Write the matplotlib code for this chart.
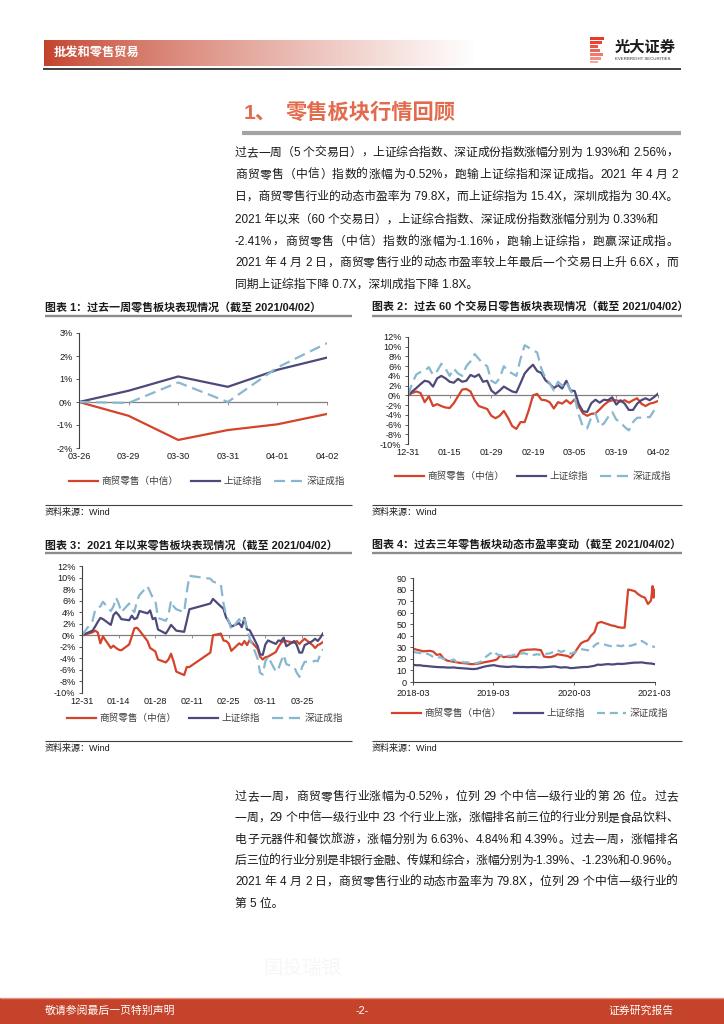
import re
import numpy as np
import pandas as pd
import matplotlib
matplotlib.use("Agg")
import matplotlib.pyplot as plt
import matplotlib.dates as mdates
from matplotlib.colors import to_rgb
from matplotlib.lines import Line2D
from matplotlib.patches import Rectangle
from matplotlib.ticker import FuncFormatter

W, H = 724, 1024
plt.rcParams['font.family'] = ['Liberation Sans', 'Noto Sans CJK SC', 'DejaVu Sans']

# ---------------- data ----------------
series_names = ['商贸零售（中信）', '上证综指', '深证成指']
series_colors = ['#D5432B', '#4D4A7B', '#87B8CF']

# chart 1: last week, cumulative change (%)
week_labels = ['03-26', '03-29', '03-30', '03-31', '04-01', '04-02']
week_retail = [0.0, -0.60, -1.65, -1.22, -0.97, -0.52]
week_sh = [0.0, 0.49, 1.11, 0.66, 1.40, 1.93]
week_sz = [0.0, -0.04, 0.85, 0.0, 1.50, 2.56]

# charts 2 and 3: 2021 year to date, cumulative change (%)
ytd_dates = pd.bdate_range('2021-01-04', '2021-04-02').drop(
    pd.to_datetime(['2021-02-11', '2021-02-12', '2021-02-15', '2021-02-16', '2021-02-17']))
ytd_dates = pd.DatetimeIndex([pd.Timestamp('2020-12-31')]).append(ytd_dates)
ytd_retail = [0.0, 0.5, 0.8, 0.5, -1.4, -0.2, -2.2, -1.8, -2.2, -2.5,
              -2.6, -1.6, -0.2, 1.2, 1.3, 0.8, -1.0, -2.2, -2.5, -2.8,
              -4.2, -4.7, -4.2, -3.2, -4.6, -6.3, -6.9, -5.5, -5.5, -3.0,
              0.0, 0.3, -0.9, -1.0, -1.4, -2.7, -1.4, -1.7, -1.0, -1.7,
              -0.8, -2.3, -3.7, -4.2, -3.8, -3.7, -2.9, -2.0, -1.3, -1.0,
              -1.0, -1.3, -1.0, -1.5, -1.0, -0.6, -1.7, -2.2, -1.7, -1.5, -1.16]
ytd_sh = [0.0, 0.8, 1.5, 2.3, 3.0, 2.8, 1.8, 3.5, 4.0, 3.5,
          2.8, 2.6, 3.4, 2.8, 3.0, 4.2, 3.8, 4.3, 2.8, 3.0,
          1.0, 0.3, 1.0, 1.8, 1.3, 0.8, 0.6, 2.5, 4.5, 5.5,
          6.3, 5.0, 4.6, 3.1, 2.4, 1.5, 2.1, 1.4, 3.0, 1.0,
          0.9, -1.8, -3.3, -3.4, -1.6, -0.9, -1.5, -0.9, -1.0, -0.4,
          -1.9, -1.0, -1.7, -3.0, -3.0, -1.7, -1.0, -0.6, -1.0, -0.4, 0.33]
ytd_sz = [0.0, 2.5, 4.3, 4.8, 5.0, 5.8, 4.2, 5.0, 6.5, 5.5,
          4.0, 5.5, 4.5, 4.0, 6.0, 7.0, 8.5, 7.5, 6.5, 6.0,
          3.0, 2.5, 3.5, 6.0, 5.0, 4.5, 4.0, 7.5, 10.3, 9.8,
          9.3, 8.8, 5.5, 3.5, 2.5, 1.0, 2.8, 2.0, 2.8, 1.0,
          -0.5, -4.0, -6.5, -6.8, -4.5, -3.7, -6.3, -5.8, -4.5, -3.4,
          -5.0, -5.5, -6.5, -7.2, -5.5, -4.6, -4.6, -4.4, -4.5, -3.2, -2.41]
ytd_labels = ['12-31', '01-15', '01-29', '02-19', '03-05', '03-19', '04-02']

# chart 4: dynamic PE over three years
pe_dates = pd.date_range('2018-04-01', '2021-03-15', freq='SMS').append(
    pd.to_datetime(['2021-03-22', '2021-03-26', '2021-04-02']))
pe_retail = [28.8, 28.0, 27.3, 26.5, 26.8, 27.0, 26.2, 23.5, 24.0, 20.5,
             18.5, 18.0, 17.5, 17.0, 16.5, 16.3, 16.0, 15.5, 15.5, 15.8,
             16.3, 17.0, 17.5, 18.0, 18.7, 19.5, 23.0, 21.5, 22.0, 21.5,
             22.0, 21.8, 27.0, 27.5, 28.0, 28.0, 28.3, 28.0, 27.5, 22.0,
             21.5, 21.5, 22.5, 24.0, 23.5, 23.0, 22.5, 21.0, 25.0, 29.0,
             33.5, 35.0, 36.0, 40.0, 43.0, 51.0, 52.0, 51.0, 50.0, 49.0,
             48.5, 47.5, 47.0, 47.0, 80.0, 79.5, 78.5, 76.0, 74.0, 73.0,
             67.5, 70.5, 83.0, 73.0, 79.8]
pe_sh = [14.8, 14.5, 14.5, 14.0, 13.8, 13.5, 13.2, 13.0, 12.8, 12.8,
         12.5, 12.5, 12.6, 12.2, 12.0, 11.8, 11.6, 11.3, 11.2, 11.5,
         12.5, 13.2, 13.8, 14.2, 14.6, 14.0, 13.5, 13.3, 13.0, 13.2,
         13.5, 13.2, 13.0, 13.0, 12.8, 12.9, 13.0, 12.8, 12.6, 12.8,
         13.0, 13.2, 13.5, 13.0, 12.5, 12.8, 12.6, 12.0, 12.2, 12.5,
         12.8, 13.0, 13.0, 13.5, 14.0, 15.0, 14.8, 15.2, 15.5, 15.2,
         15.3, 15.8, 15.6, 15.8, 16.2, 16.5, 16.8, 16.8, 17.0, 16.5,
         16.2, 16.0, 15.8, 15.6, 15.4]
pe_sz = [26.0, 25.5, 25.0, 25.5, 24.5, 23.5, 21.5, 21.0, 21.5, 20.0,
         19.0, 18.5, 19.5, 17.0, 17.5, 17.0, 17.0, 16.5, 16.0, 16.5,
         17.5, 20.5, 22.5, 24.5, 26.5, 24.0, 23.0, 23.0, 23.0, 22.5,
         23.5, 24.0, 24.5, 25.0, 24.0, 23.0, 23.5, 24.0, 23.5, 24.0,
         24.5, 25.0, 26.5, 27.5, 26.0, 27.0, 25.5, 24.5, 25.5, 27.0,
         28.5, 28.0, 27.5, 28.0, 31.5, 33.5, 33.0, 32.5, 31.5, 31.0,
         32.0, 31.5, 31.0, 32.0, 31.0, 31.5, 32.5, 34.0, 35.5, 34.0,
         32.0, 31.0, 30.8, 30.5, 30.4]
pe_ticks = pd.to_datetime(['2018-03-30', '2019-03-29', '2020-03-31', '2021-03-31'])
pe_labels = ['2018-03', '2019-03', '2020-03', '2021-03']

# (line, justified?)
para1 = [('过去一周（5 个交易日），上证综合指数、深证成份指数涨幅分别为 1.93%和 2.56%，', True),
         ('商贸零售（中信）指数的涨幅为-0.52%，跑输上证综指和深证成指。2021 年 4 月 2', True),
         ('日，商贸零售行业的动态市盈率为 79.8X，而上证综指为 15.4X，深圳成指为 30.4X。', False)]
para2 = [('2021 年以来（60 个交易日），上证综合指数、深证成份指数涨幅分别为 0.33%和', False),
         ('-2.41%，商贸零售（中信）指数的涨幅为-1.16%，跑输上证综指，跑赢深证成指。', True),
         ('2021 年 4 月 2 日，商贸零售行业的动态市盈率较上年最后一个交易日上升 6.6X，而', True),
         ('同期上证综指下降 0.7X，深圳成指下降 1.8X。', False)]
para3 = [('过去一周，商贸零售行业涨幅为-0.52%，位列 29 个中信一级行业的第 26 位。过去', True),
         ('一周，29 个中信一级行业中 23 个行业上涨，涨幅排名前三位的行业分别是食品饮料、', True),
         ('电子元器件和餐饮旅游，涨幅分别为 6.63%、4.84%和 4.39%。过去一周，涨幅排名', True),
         ('后三位的行业分别是非银行金融、传媒和综合，涨幅分别为-1.39%、-1.23%和-0.96%。', True),
         ('2021 年 4 月 2 日，商贸零售行业的动态市盈率为 79.8X，位列 29 个中信一级行业的', True),
         ('第 5 位。', False)]

chart_titles = ['图表 1：过去一周零售板块表现情况（截至 2021/04/02）',
                '图表 2：过去 60 个交易日零售板块表现情况（截至 2021/04/02）',
                '图表 3：2021 年以来零售板块表现情况（截至 2021/04/02）',
                '图表 4：过去三年零售板块动态市盈率变动（截至 2021/04/02）']

# ---------------- page helpers ----------------
fig = plt.figure(figsize=(W / 100, H / 100), dpi=100)
fig.patch.set_facecolor('white')
renderer = fig.canvas.get_renderer()


def fy(y):
    return 1 - y / H


def text(x, y, s, **kw):
    kw.setdefault('va', 'center')
    return fig.text(x / W, fy(y), s, **kw)


def hline(x0, x1, y, color, lw):
    fig.add_artist(Line2D([x0 / W, x1 / W], [fy(y), fy(y)], color=color, lw=lw,
                          transform=fig.transFigure, solid_capstyle='butt'))


def box(x0, y0, x1, y1, color):
    fig.add_artist(Rectangle((x0 / W, fy(y1)), (x1 - x0) / W, (y1 - y0) / H,
                             transform=fig.transFigure, color=color, lw=0))


def px_axes(x0, y0, x1, y1):
    return fig.add_axes([x0 / W, fy(y1), (x1 - x0) / W, (y1 - y0) / H])


def body_line(x0, y, s, justify, width=443, **kw):
    # spread the slack of a justified line over the gaps between tokens
    if not justify:
        text(x0, y, s, **kw)
        return
    toks = [(m.start(), m.group()) for m in re.finditer(r'[!-~]+|[^ ]', s)]
    probe = text(0, y, 'I', **kw)
    w_i = probe.get_window_extent(renderer).width
    starts = []
    for k, _ in toks:
        if k == 0:
            starts.append(0.0)
        else:
            probe.set_text(s[:k] + 'I')
            starts.append(probe.get_window_extent(renderer).width - w_i)
    probe.set_text(s)
    total = probe.get_window_extent(renderer).width
    probe.remove()
    gap = (width - total) / (len(toks) - 1)
    for i, ((_, tok), p) in enumerate(zip(toks, starts)):
        text(x0 + p + i * gap, y, tok, **kw)


# header
hax = px_axes(44, 40, 476, 66)
t = np.linspace(0, 1, 300) ** 0.8
c0 = np.array(to_rgb('#C4412A'))
grad = c0[None, :] * (1 - t[:, None]) + t[:, None]
hax.imshow(grad[None, :, :], aspect='auto')
hax.axis('off')
text(54, 53, '批发和零售贸易', color='white', fontsize=8.8, fontweight='bold')
hline(43, 681, 68.5, '#303030', 1.3)

# logo
logo_rows = [(37, 40, 604, '#E8392A'), (41, 44, 602, '#EA4433'), (45, 48, 598, '#EC5444'),
             (49, 52, 600, '#EE6658'), (53, 56, 603, '#F07A6E'), (57, 60, 601, '#F29086'),
             (61, 63, 598, '#F4A8A0')]
for y0, y1, x1, c in logo_rows:
    box(590, y0, x1, y1, c)
text(615, 48, '光大证券', fontsize=11, fontweight='bold', color='#1a1a1a')
text(615, 59, 'EVERBRIGHT SECURITIES', fontsize=3.2, color='#333333')

# section title
text(244, 113, '1、', fontsize=15.3, fontweight='bold', color='#E36B4D')
text(286, 113, '零售板块行情回顾', fontsize=15.3, fontweight='bold', color='#E36B4D')
hline(242, 681, 133, '#A3A3A3', 3.0)

body = dict(fontsize=8.5, color='#1a1a1a')
for i, (line, just) in enumerate(para1):
    body_line(235, 153 + i * 21.6, line, just, **body)
for i, (line, just) in enumerate(para2):
    body_line(235, 220 + i * 21.6, line, just, **body)
for i, (line, just) in enumerate(para3):
    body_line(235, 797 + i * 21.3, line, just, **body)

# chart frames: titles, rules, sources
frames = [(45, 352, 307, 316, 505), (372, 682, 307, 316, 505),
          (45, 352, 545, 553, 741), (372, 682, 545, 553, 741)]
for (x0, x1, ty, ly, sy), title in zip(frames, chart_titles):
    text(x0, ty, title, fontsize=7.9, fontweight='bold', color='#1a1a1a')
    hline(x0, x1, ly, '#8C8C8C', 1.7)
    hline(x0, x1, sy, '#404040', 0.8)
    text(x0, sy + 7, '资料来源：Wind', fontsize=6.5, color='#1a1a1a')

# footer
box(0, 998, W, H, '#C4432A')
hline(0, W, 998, '#E39380', 1.0)
foot = dict(fontsize=7.8, color='white')
text(45, 1011, '敬请参阅最后一页特别声明', **foot)
text(362, 1011, '-2-', ha='center', **foot)
text(674, 1011, '证券研究报告', ha='right', **foot)
text(302, 969, '国投瑞银', ha='center', fontsize=14, color='#F7F7F7')

# ---------------- charts ----------------
pct = FuncFormatter(lambda v, p: f'{v:.0f}%')


def base_style(ax):
    ax.set_facecolor('none')
    for s in ['top', 'right']:
        ax.spines[s].set_visible(False)
    ax.spines['left'].set_color('#404040')
    ax.spines['left'].set_linewidth(0.8)
    ax.tick_params(axis='both', labelsize=6.6, labelcolor='#1a1a1a', pad=2.2)
    ax.tick_params(axis='y', length=2.5, width=0.6, color='#404040', direction='out')


def zero_axis(ax, ticks):
    ax.spines['bottom'].set_visible(False)
    ax.tick_params(axis='x', length=0, pad=3.0)
    lo, hi = ax.get_ylim()
    sec = ax.secondary_xaxis((0 - lo) / (hi - lo))
    sec.set_xticks(ticks)
    sec.tick_params(axis='x', length=2.2, width=0.6, color='#808080',
                    labelbottom=False, labeltop=False)
    for sp in sec.spines.values():
        sp.set_color('#808080')
        sp.set_linewidth(0.9)


def draw_series(ax, x, ys, dash):
    for y, name, color, i in zip(ys, series_names, series_colors, range(3)):
        kw = dict(color=color, lw=1.6, label=name, solid_joinstyle='round')
        if i == 2:
            kw['dashes'] = dash
        ax.plot(x, y, **kw)


def add_legend(ax, cx, cy):
    leg = ax.legend(loc='center', bbox_to_anchor=(cx / W, fy(cy)), bbox_transform=fig.transFigure,
                    ncol=3, frameon=False, fontsize=6.9, handlelength=3.0, handletextpad=0.35,
                    columnspacing=1.3, borderpad=0)
    for tx in leg.get_texts():
        tx.set_color('#404040')


# chart 1
ax1 = px_axes(79, 333, 327, 448)
xw = np.arange(len(week_labels))
draw_series(ax1, xw, [week_retail, week_sh, week_sz], (5, 2.6))
ax1.set_xlim(0, len(week_labels) - 1)
ax1.set_ylim(-2, 3)
ax1.set_yticks(range(-2, 4))
ax1.yaxis.set_major_formatter(pct)
ax1.set_xticks(xw, week_labels)
base_style(ax1)
zero_axis(ax1, xw)
add_legend(ax1, 207, 481)

# chart 2
ax2 = px_axes(408, 337, 658, 444)
xi = np.arange(len(ytd_retail))
draw_series(ax2, xi, [ytd_retail, ytd_sh, ytd_sz], (5, 2.6))
ax2.set_xlim(0, len(ytd_retail) - 1)
ax2.set_ylim(-10, 12)
ax2.set_yticks(range(-10, 13, 2))
ax2.yaxis.set_major_formatter(pct)
lab_pos = xi[::10]
ax2.set_xticks(lab_pos, ytd_labels)
base_style(ax2)
zero_axis(ax2, lab_pos)
add_legend(ax2, 533, 476)

# chart 3
ax3 = px_axes(82, 566, 323, 693)
draw_series(ax3, ytd_dates, [ytd_retail, ytd_sh, ytd_sz], (5, 2.6))
ax3.set_xlim(ytd_dates[0], ytd_dates[-1])
ax3.set_ylim(-10, 12)
ax3.set_yticks(range(-10, 13, 2))
ax3.yaxis.set_major_formatter(pct)
d_ticks = pd.date_range(ytd_dates[0], periods=7, freq='14D')
ax3.set_xticks(d_ticks, [d.strftime('%m-%d') for d in d_ticks])
base_style(ax3)
zero_axis(ax3, mdates.date2num(d_ticks))
add_legend(ax3, 205, 718)

# chart 4
ax4 = px_axes(413, 578, 655, 682)
draw_series(ax4, pe_dates, [pe_retail, pe_sh, pe_sz], (3.6, 2.2))
ax4.set_xlim(pd.Timestamp('2018-03-30'), pd.Timestamp('2021-04-02'))
ax4.set_ylim(0, 90)
ax4.set_yticks(range(0, 91, 10))
ax4.set_xticks(pe_ticks, pe_labels)
base_style(ax4)
ax4.spines['bottom'].set_color('#404040')
ax4.spines['bottom'].set_linewidth(0.8)
ax4.tick_params(axis='x', length=2.5, width=0.6, color='#404040', direction='out')
add_legend(ax4, 530, 713)

fig.savefig('out.png', dpi=100, facecolor='white')
